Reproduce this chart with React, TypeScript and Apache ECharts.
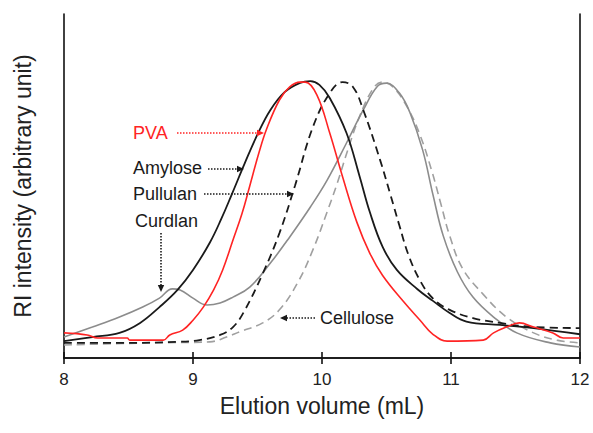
import React, { useEffect, useRef } from "react";
import * as echarts from "echarts";

const xTicks = [8, 9, 10, 11, 12];

const amylose: [number, number][] = [
  [8.0, 4.9], [8.22, 6.1], [8.43, 7.3], [8.59, 10.2], [8.74, 14.8], [8.88, 19.8],
  [9.0, 25.6], [9.13, 33.5], [9.22, 40.5], [9.3, 47.5], [9.4, 56.5], [9.5, 65.0],
  [9.6, 72.1], [9.71, 77.3], [9.83, 80.0], [9.91, 80.5], [9.98, 79.4], [10.06, 75.6],
  [10.19, 65.4], [10.29, 53.0], [10.37, 42.5], [10.47, 32.3], [10.58, 25.6],
  [10.74, 20.0], [10.86, 16.6], [10.99, 13.1], [11.12, 10.6], [11.38, 9.6],
  [11.64, 8.7], [12.0, 6.9],
];

const pva: [number, number][] = [
  [8.0, 7.3], [8.18, 6.7], [8.26, 5.8], [8.49, 5.8], [8.51, 5.2], [8.77, 5.2],
  [8.82, 6.7], [8.92, 8.1], [9.0, 11.0], [9.08, 14.8], [9.16, 19.8], [9.23, 25.6],
  [9.31, 34.3], [9.38, 42.0], [9.44, 50.0], [9.51, 59.5], [9.57, 66.5], [9.67, 75.0],
  [9.75, 78.8], [9.83, 80.2], [9.87, 80.2], [9.96, 76.5], [10.06, 65.4], [10.16, 52.6],
  [10.27, 39.5], [10.37, 30.5], [10.47, 24.0], [10.63, 16.5], [10.76, 11.0],
  [10.86, 6.9], [10.97, 4.9], [11.25, 5.2], [11.33, 7.3], [11.43, 9.0], [11.53, 10.2],
  [11.64, 9.0], [11.79, 7.3], [11.87, 5.8], [12.0, 5.8],
];

const pullulan: [number, number][] = [
  [8.0, 4.4], [8.49, 4.4], [8.88, 4.7], [9.05, 5.2], [9.21, 6.7], [9.31, 9.0],
  [9.39, 13.1], [9.54, 24.5], [9.67, 36.3], [9.79, 50.0], [9.93, 67.2], [10.06, 77.0],
  [10.16, 80.2], [10.24, 78.8], [10.32, 72.1], [10.45, 57.6], [10.53, 47.5],
  [10.6, 38.5], [10.67, 30.0], [10.76, 22.5], [10.86, 17.3], [10.99, 14.0],
  [11.17, 11.6], [11.38, 10.2], [11.64, 9.0], [12.0, 8.7],
];

const curdlan: [number, number][] = [
  [8.0, 6.1], [8.22, 9.0], [8.43, 11.9], [8.61, 14.8], [8.74, 17.4], [8.84, 20.1],
  [8.9, 19.8], [9.0, 17.4], [9.11, 15.4], [9.21, 16.0], [9.31, 17.7], [9.44, 20.6],
  [9.6, 27.6], [9.75, 35.2], [9.91, 43.9], [10.04, 51.7], [10.19, 62.5], [10.32, 72.1],
  [10.43, 79.0], [10.5, 79.9], [10.6, 77.0], [10.68, 71.5], [10.78, 60.5],
  [10.86, 47.5], [10.94, 35.5], [11.05, 25.0], [11.17, 17.7], [11.33, 11.9],
  [11.51, 7.3], [11.77, 4.4], [12.0, 3.2],
];

const cellulose: [number, number][] = [
  [8.0, 3.8], [8.67, 4.4], [9.13, 4.7], [9.26, 6.1], [9.36, 7.6], [9.54, 10.2],
  [9.67, 14.0], [9.81, 21.8], [9.93, 31.5], [10.04, 42.5], [10.12, 51.0],
  [10.2, 60.5], [10.29, 70.1], [10.4, 78.5], [10.47, 80.2], [10.55, 78.8],
  [10.66, 73.0], [10.76, 64.8], [10.85, 54.5], [10.92, 45.0], [10.99, 35.5],
  [11.09, 26.0], [11.25, 18.5], [11.43, 11.9], [11.64, 7.3], [11.82, 5.2], [12.0, 4.4],
];

const labels = ["PVA", "Amylose", "Pullulan", "Curdlan", "Cellulose"];

const FONT = "'Liberation Sans', Arial, sans-serif";

function dottedArrow(x1: number, y1: number, x2: number, y2: number, color: string) {
  const dx = x2 - x1;
  const dy = y2 - y1;
  const len = Math.sqrt(dx * dx + dy * dy);
  const ux = dx / len;
  const uy = dy / len;
  const hl = 7;
  const hw = 3.2;
  const bx = x2 - ux * hl;
  const by = y2 - uy * hl;
  return [
    {
      type: "line",
      shape: { x1, y1, x2: bx, y2: by },
      style: { stroke: color, lineWidth: 1.6, lineDash: [1.5, 1.5] },
      z: 100,
    },
    {
      type: "polygon",
      shape: {
        points: [
          [x2, y2],
          [bx - uy * hw, by + ux * hw],
          [bx + uy * hw, by - ux * hw],
        ],
      },
      style: { fill: color },
      z: 100,
    },
  ];
}

function label(text: string, x: number, y: number, color: string) {
  return {
    type: "text",
    x,
    y,
    style: {
      text,
      fill: color,
      font: `18px ${FONT}`,
      verticalAlign: "middle",
    },
    z: 100,
  };
}

export default function App() {
  const ref = useRef<HTMLDivElement>(null);
  useEffect(() => {
    document.body.style.margin = "0";
    if (!ref.current) return;
    const chart = echarts.init(ref.current, undefined, { renderer: "svg" });
    const axisLine = { show: true, lineStyle: { color: "#111", width: 1.6 } };
    const mk = (name: string, data: [number, number][], color: string, dashed: boolean, width: number) => ({
      name,
      type: "line",
      data,
      showSymbol: false,
      smooth: 0.4,
      lineStyle: { color, width, type: dashed ? [8, 5] : "solid" },
      z: 5,
    });
    chart.setOption({
      animation: false,
      backgroundColor: "#fff",
      grid: { left: 64, right: 13, top: 14, bottom: 75, containLabel: false },
      xAxis: [
        {
          type: "value",
          min: xTicks[0],
          max: xTicks[xTicks.length - 1],
          interval: 1,
          axisLine,
          axisTick: { show: true, inside: true, length: 6, lineStyle: { color: "#111", width: 1.6 } },
          axisLabel: {
            color: "#222",
            fontSize: 17,
            fontFamily: FONT,
            margin: 13,
            formatter: (v: number) => String(v),
          },
          splitLine: { show: false },
          name: "Elution volume (mL)",
          nameLocation: "middle",
          nameGap: 36,
          nameTextStyle: { color: "#222", fontSize: 23, fontFamily: FONT, verticalAlign: "top" },
        },
        {
          type: "value",
          position: "top",
          min: xTicks[0],
          max: xTicks[xTicks.length - 1],
          interval: 1,
          axisLine,
          axisTick: { show: true, inside: true, length: 6, lineStyle: { color: "#111", width: 1.6 } },
          axisLabel: { show: false },
          splitLine: { show: false },
        },
      ],
      yAxis: [
        {
          type: "value",
          min: 0,
          max: 100,
          axisLine,
          axisTick: { show: false },
          axisLabel: { show: false },
          splitLine: { show: false },
          name: "RI intensity (arbitrary unit)",
          nameLocation: "middle",
          nameGap: 30,
          nameTextStyle: { color: "#222", fontSize: 23, fontFamily: FONT },
        },
        {
          type: "value",
          position: "right",
          min: 0,
          max: 100,
          axisLine,
          axisTick: { show: false },
          axisLabel: { show: false },
          splitLine: { show: false },
        },
      ],
      series: [
        mk(labels[4], cellulose, "#a0a0a0", true, 1.6),
        mk(labels[3], curdlan, "#8c8c8c", false, 1.6),
        mk(labels[2], pullulan, "#1a1a1a", true, 1.8),
        mk(labels[1], amylose, "#1a1a1a", false, 1.8),
        mk(labels[0], pva, "#ff2424", false, 1.6),
      ],
      graphic: [
        label(labels[0], 133, 133, "#ff2424"),
        label(labels[1], 133, 168, "#1a1a1a"),
        label(labels[2], 133, 194, "#1a1a1a"),
        label(labels[3], 135, 221, "#1a1a1a"),
        label(labels[4], 320, 318, "#1a1a1a"),
        ...dottedArrow(177, 133, 264, 133, "#ff2424"),
        ...dottedArrow(208, 169, 244, 169, "#1a1a1a"),
        ...dottedArrow(204, 194, 294, 194, "#1a1a1a"),
        ...dottedArrow(161, 233, 161, 292, "#1a1a1a"),
        ...dottedArrow(315, 318, 280, 318, "#1a1a1a"),
      ],
    });
    return () => chart.dispose();
  }, []);
  return <div ref={ref} style={{ width: 593, height: 433 }} />;
}
